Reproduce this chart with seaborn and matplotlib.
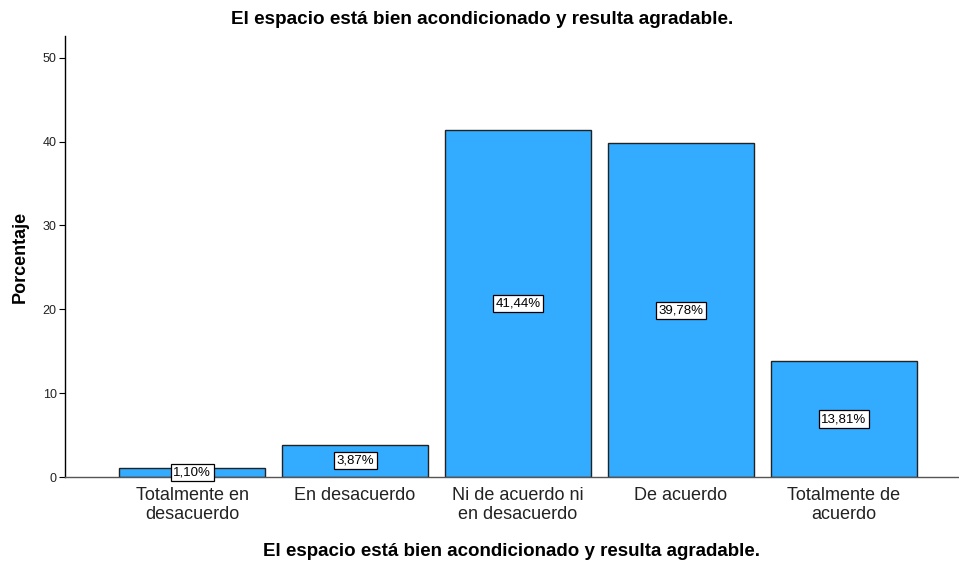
import matplotlib
matplotlib.use("Agg")
import matplotlib.pyplot as plt
import seaborn as sns
import pandas as pd

categories = ["Totalmente en\ndesacuerdo", "En desacuerdo", "Ni de acuerdo ni\nen desacuerdo",
              "De acuerdo", "Totalmente de\nacuerdo"]
percentages = [1.10, 3.87, 41.44, 39.78, 13.81]
yticks = [0, 10, 20, 30, 40, 50]
title = "El espacio está bien acondicionado y resulta agradable."

sns.set_theme(style="white")
plt.rcParams["font.family"] = ["Liberation Sans", "DejaVu Sans"]

df = pd.DataFrame({"cat": categories, "pct": percentages})

fig = plt.figure(figsize=(9.59, 5.61), dpi=100)
ax = fig.add_axes([65 / 959, 1 - 477 / 561, 893 / 959, (477 - 36) / 561])

sns.barplot(data=df, x="cat", y="pct", color="#33ABFF", saturation=1,
            width=0.9, edgecolor="#222222", linewidth=1.0, ax=ax)

for i, v in enumerate(percentages):
    ax.text(i, v / 2, f"{v:.2f}%".replace(".", ","), ha="center", va="center",
            fontsize=9.5, color="black",
            bbox=dict(boxstyle="square,pad=0.2", fc="white", ec="black", lw=0.9))

ax.set_xlim(-0.78, 4.7)
ax.set_ylim(0, 52.6)
ax.set_yticks(yticks)
ax.set_yticklabels([str(t) for t in yticks], fontsize=9, color="#222222")
ax.tick_params(axis="y", which="both", left=True, length=4, width=0.8, color="black", pad=2)
ax.tick_params(axis="x", length=0, labelsize=13, pad=7, labelcolor="#222222")
for lbl in ax.get_xticklabels():
    lbl.set_linespacing(1.2)

ax.set_ylabel("Porcentaje", fontsize=13, fontweight="bold", labelpad=10, color="black")
ax.set_xlabel(title, fontsize=13.5, fontweight="bold", labelpad=14, color="black")
fig.suptitle(title, x=0.503, y=1 - 20 / 561, va="center", fontsize=13.6,
             fontweight="bold", color="black")

for s in ["top", "right"]:
    ax.spines[s].set_visible(False)
ax.spines["left"].set_color("black")
ax.spines["left"].set_linewidth(1.0)
ax.spines["bottom"].set_color("#555555")
ax.spines["bottom"].set_linewidth(1.0)

fig.savefig("out.png", dpi=100)
